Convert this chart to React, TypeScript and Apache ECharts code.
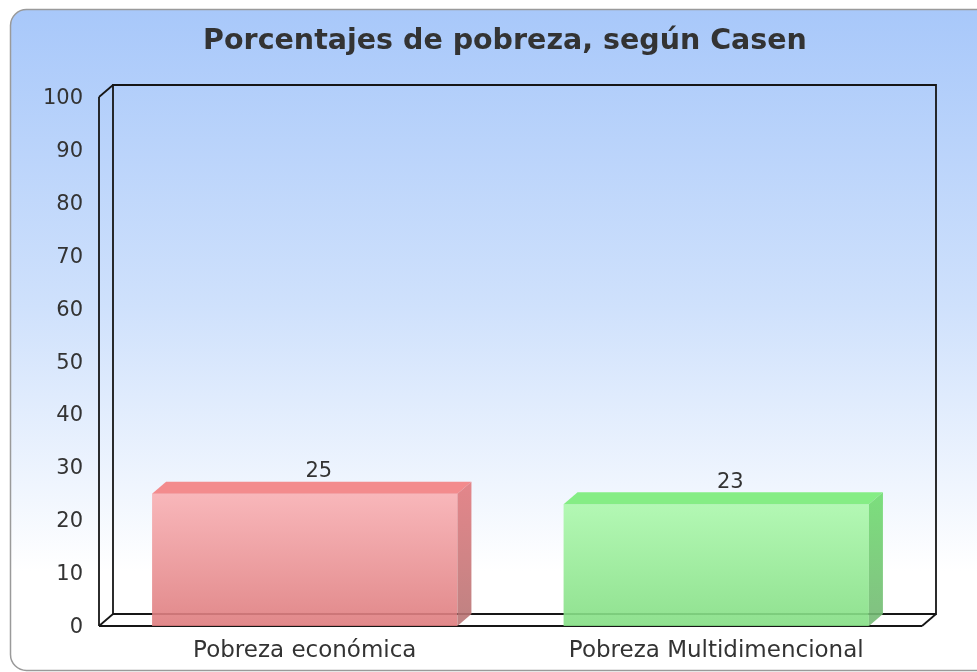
import React, { useEffect, useRef } from "react";
import * as echarts from "echarts";

const TITLE = "Porcentajes de pobreza, según Casen";
const categories = ["Pobreza económica", "Pobreza Multidimencional"];
const values = [25, 23];
const yMin = 0;
const yMax = 100;
const yInterval = 10;

const DX = 14;
const DY = -12;

const palettes = [
  {
    frontTop: "#f9b0b3",
    frontBottom: "#de7c7e",
    top: "#f28587",
    sideTop: "#e27a7e",
    sideBottom: "#b77474",
  },
  {
    frontTop: "#acf8ac",
    frontBottom: "#84de84",
    top: "#7eec7e",
    sideTop: "#6fdc6f",
    sideBottom: "#74b874",
  },
];

const FONT = "DejaVu Sans";

export default function App() {
  const ref = useRef<HTMLDivElement>(null);
  useEffect(() => {
    if (!ref.current) return;
    const chart = echarts.init(ref.current, null, { renderer: "svg" });
    const lineStyle = { stroke: "#161616", lineWidth: 1.8 };
    chart.setOption({
      animation: false,
      graphic: [
        {
          type: "rect",
          z: -10,
          silent: true,
          shape: { x: 10.5, y: 9.5, width: 990, height: 661, r: 16 },
          style: {
            fill: new echarts.graphic.LinearGradient(0, 0, 0, 1, [
              { offset: 0, color: "#a8c8fa" },
              { offset: 0.45, color: "#cfe1fc" },
              { offset: 0.85, color: "#ffffff" },
              { offset: 1, color: "#ffffff" },
            ]),
            stroke: "#9a9a9a",
            lineWidth: 1.5,
          },
        },
      ],
      title: {
        text: TITLE,
        left: 500,
        textAlign: "center",
        top: 20,
        textStyle: {
          fontFamily: FONT,
          fontWeight: "bold",
          fontSize: 28.5,
          color: "#333333",
        },
      },
      grid: { left: 99, right: 55, top: 97, bottom: 46, containLabel: false },
      xAxis: {
        type: "category",
        data: categories,
        axisLine: { show: false },
        axisTick: { show: false },
        axisLabel: {
          fontFamily: FONT,
          fontSize: 23,
          color: "#333333",
          margin: 11,
        },
      },
      yAxis: {
        type: "value",
        min: yMin,
        max: yMax,
        interval: yInterval,
        axisLine: { show: false },
        axisTick: { show: false },
        splitLine: { show: false },
        axisLabel: {
          fontFamily: FONT,
          fontSize: 21,
          color: "#333333",
          margin: 16,
        },
      },
      series: [
        {
          type: "custom",
          z: 1,
          silent: true,
          data: [[0, 0]],
          renderItem: (params: any) => {
            const cs = params.coordSys;
            const x = cs.x, y = cs.y, w = cs.width, h = cs.height;
            const line = (x1: number, y1: number, x2: number, y2: number) => ({
              type: "line",
              shape: { x1, y1, x2, y2 },
              style: lineStyle,
            });
            return {
              type: "group",
              children: [
                {
                  type: "polygon",
                  shape: {
                    points: [
                      [x, y + h],
                      [x + DX, y + h + DY],
                      [x + w + DX, y + h + DY],
                      [x + w, y + h],
                    ],
                  },
                  style: { fill: "#ffffff" },
                },
                {
                  type: "rect",
                  shape: { x: x + DX, y: y + DY, width: w, height: h },
                  style: { fill: "none", ...lineStyle },
                },
                line(x, y, x, y + h),
                line(x, y, x + DX, y + DY),
                line(x, y + h, x + DX, y + h + DY),
                line(x, y + h, x + w, y + h),
                line(x + w, y + h, x + w + DX, y + h + DY),
              ],
            };
          },
        },
        {
          type: "custom",
          z: 2,
          data: values.map((v, i) => [i, v]),
          renderItem: (params: any, api: any) => {
            const idx = api.value(0);
            const val = api.value(1);
            const base = api.coord([idx, 0]);
            const top = api.coord([idx, val]);
            const bandW = api.size([1, 0])[0];
            const bw = bandW * 0.742;
            const x0 = base[0] - bw / 2;
            const x1 = base[0] + bw / 2;
            const yb = base[1];
            const yt = top[1];
            const p = palettes[idx % palettes.length];
            return {
              type: "group",
              children: [
                {
                  type: "rect",
                  shape: { x: x0, y: yt, width: bw, height: yb - yt },
                  style: {
                    fill: new echarts.graphic.LinearGradient(0, 0, 0, 1, [
                      { offset: 0, color: p.frontTop },
                      { offset: 1, color: p.frontBottom },
                    ]),
                    opacity: 0.9,
                  },
                },
                {
                  type: "polygon",
                  shape: {
                    points: [
                      [x0, yt],
                      [x0 + DX, yt + DY],
                      [x1 + DX, yt + DY],
                      [x1, yt],
                    ],
                  },
                  style: { fill: p.top, opacity: 0.95 },
                },
                {
                  type: "polygon",
                  shape: {
                    points: [
                      [x1, yt],
                      [x1 + DX, yt + DY],
                      [x1 + DX, yb + DY],
                      [x1, yb],
                    ],
                  },
                  style: {
                    fill: new echarts.graphic.LinearGradient(0, 0, 0, 1, [
                      { offset: 0, color: p.sideTop },
                      { offset: 1, color: p.sideBottom },
                    ]),
                    opacity: 0.9,
                  },
                },
                {
                  type: "text",
                  x: base[0] + DX,
                  y: yt + DY - 1,
                  style: {
                    text: String(val),
                    fontFamily: FONT,
                    fontSize: 21,
                    fill: "#333333",
                    align: "center",
                    verticalAlign: "bottom",
                  },
                },
              ],
            };
          },
        },
      ],
    });
    return () => chart.dispose();
  }, []);
  return (
    <div
      ref={ref}
      style={{ position: "fixed", left: 0, top: 0, width: 977, height: 672 }}
    />
  );
}
